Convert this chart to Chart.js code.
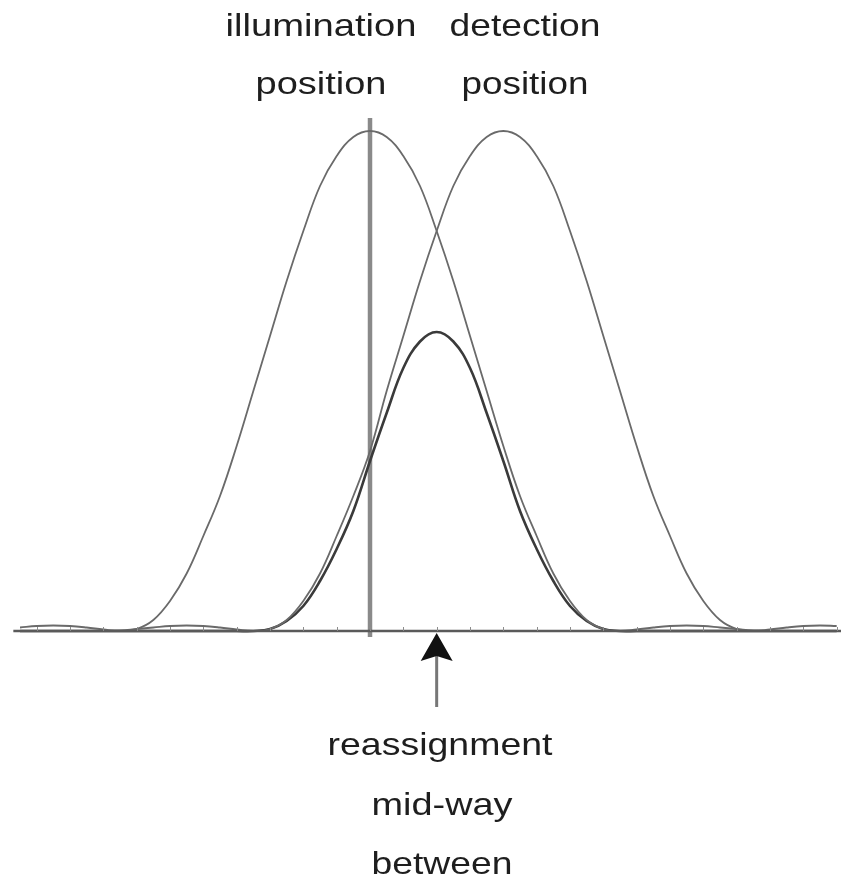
<!DOCTYPE html>
<html>
<head>
<meta charset="utf-8">
<script src="https://cdn.jsdelivr.net/npm/chart.js@4.4.1/dist/chart.umd.min.js"></script>
<style>
    html, body { margin: 0; padding: 0; background: #fff; }
    #wrap { width: 841px; height: 878px; }
</style>
</head>
<body>
<div id="wrap"><canvas id="psfChart" width="841" height="878"></canvas></div>
<script>
// positions along the line, one tick = 1 unit (illumination at 0, detection at 4)
const positions = [-10.5, -10, -9.5, -9, -8.5, -8, -7.5, -7, -6.5, -6, -5.5, -5, -4.5, -4, -3.5, -3, -2.5, -2, -1.5, -1, -0.5,
    0, 0.5, 1, 1.5, 2, 2.5, 3, 3.5, 4, 4.5, 5, 5.5, 6, 6.5, 7, 7.5, 8, 8.5, 9, 9.5, 10, 10.5, 11, 11.5, 12, 12.5, 13, 13.5, 14];

const illumination = [0.007, 0.01, 0.011, 0.01, 0.007, 0.003, 0, 0.004, 0.022, 0.06, 0.115, 0.19, 0.27, 0.37, 0.48, 0.59, 0.70, 0.80, 0.89, 0.95, 0.988,
    1.0, 0.988, 0.95, 0.89, 0.80, 0.70, 0.59, 0.48, 0.37, 0.27, 0.19, 0.115, 0.06, 0.022, 0.004, 0, 0.003, 0.007, 0.01, 0.011, 0.01, 0.007, 0.004, 0.001, 0, 0, 0, 0, 0];

const detection = [0, 0, 0, 0, 0, 0, 0.001, 0.004, 0.007, 0.01, 0.011, 0.01, 0.007, 0.003, 0, 0.004, 0.022, 0.06, 0.115, 0.19, 0.27,
    0.36, 0.48, 0.59, 0.70, 0.80, 0.89, 0.95, 0.988, 1.0, 0.988, 0.95, 0.89, 0.80, 0.70, 0.59, 0.48, 0.37, 0.27, 0.19, 0.115, 0.06, 0.022, 0.004, 0, 0.003, 0.007, 0.01, 0.011, 0.01];

const product = [0, 0, 0, 0, 0, 0, 0, 0, 0, 0, 0, 0, 0, 0, 0, 0.004, 0.02, 0.05, 0.10, 0.164, 0.24,
    0.34, 0.436, 0.526, 0.579, 0.598, 0.579, 0.526, 0.436, 0.34, 0.24, 0.164, 0.10, 0.05, 0.02, 0.004, 0, 0, 0, 0, 0, 0, 0, 0, 0, 0, 0, 0, 0, 0];

const tickPositions = [-10, -9, -8, -7, -6, -5, -4, -3, -2, -1, 0, 1, 2, 3, 4, 5, 6, 7, 8, 9, 10, 11, 12, 13, 14];
const axisRange = [-10.7, 14.2];
const markerPosition = 0;      // vertical line at the illumination position
const reassignPosition = 2;    // arrow, mid-way between

const topLabels = [
    { lines: ['illumination', 'position'], x: 321 },
    { lines: ['detection', 'position'], x: 525 }
];
const bottomLabels = ['reassignment', 'mid-way', 'between'];

function pts(ys) {
    return positions.map((x, i) => ({ x: x, y: ys[i] }));
}

// draws the axis ticks, the arrow head and all text
const decorPlugin = {
    id: 'decor',
    afterDatasetsDraw(chart) {
        const ctx = chart.ctx;
        const xs = chart.scales.x;
        const ys = chart.scales.y;
        const y0 = ys.getPixelForValue(0);

        // small ticks on the axis
        ctx.save();
        ctx.strokeStyle = '#8c8c8c';
        ctx.lineWidth = 1;
        tickPositions.forEach(t => {
            const px = Math.round(xs.getPixelForValue(t)) + 0.5;
            ctx.beginPath();
            ctx.moveTo(px, y0 - 4);
            ctx.lineTo(px, y0);
            ctx.stroke();
        });

        // arrow head
        const ax = xs.getPixelForValue(reassignPosition);
        ctx.fillStyle = '#111';
        ctx.beginPath();
        ctx.moveTo(ax, ys.getPixelForValue(-0.004));
        ctx.lineTo(xs.getPixelForValue(reassignPosition + 0.48), ys.getPixelForValue(-0.06));
        ctx.lineTo(ax, ys.getPixelForValue(-0.05));
        ctx.lineTo(xs.getPixelForValue(reassignPosition - 0.48), ys.getPixelForValue(-0.06));
        ctx.closePath();
        ctx.fill();
        ctx.restore();

        // text
        ctx.save();
        ctx.fillStyle = '#1e1e1e';
        ctx.textAlign = 'center';
        ctx.textBaseline = 'alphabetic';
        ctx.font = '32px "Liberation Sans", Arial, sans-serif';
        const drawText = (txt, cx, base, width) => {
            const w = ctx.measureText(txt).width;
            const s = width ? width / w : 1.12;
            ctx.save();
            ctx.translate(cx, base);
            ctx.scale(s, 1);
            ctx.fillText(txt, 0, 0);
            ctx.restore();
        };
        drawText(topLabels[0].lines[0], topLabels[0].x, 36, 191);
        drawText(topLabels[0].lines[1], topLabels[0].x, 94, 131);
        drawText(topLabels[1].lines[0], topLabels[1].x, 36, 151);
        drawText(topLabels[1].lines[1], topLabels[1].x, 94, 127);
        drawText(bottomLabels[0], 440, 755, 225);
        drawText(bottomLabels[1], 442, 815, 141);
        drawText(bottomLabels[2], 442, 874, 141);
        ctx.restore();
    }
};

document.addEventListener('DOMContentLoaded', function() {
    const ctx = document.getElementById('psfChart').getContext('2d');
    new Chart(ctx, {
        type: 'line',
        data: {
            datasets: [
                {
                    label: 'axis',
                    data: [{ x: axisRange[0], y: 0 }, { x: axisRange[1], y: 0 }],
                    borderColor: '#5a5a5a',
                    borderWidth: 2.5,
                    pointRadius: 0
                },
                {
                    label: 'illumination',
                    data: pts(illumination),
                    borderColor: '#6a6a6a',
                    borderWidth: 1.8,
                    pointRadius: 0,
                    tension: 0.4
                },
                {
                    label: 'detection',
                    data: pts(detection),
                    borderColor: '#6a6a6a',
                    borderWidth: 1.8,
                    pointRadius: 0,
                    tension: 0.4
                },
                {
                    label: 'product',
                    data: pts(product),
                    borderColor: '#3a3a3a',
                    borderWidth: 2.6,
                    pointRadius: 0,
                    tension: 0.4
                },
                {
                    label: 'marker',
                    data: [{ x: markerPosition, y: -0.012 }, { x: markerPosition, y: 1.026 }],
                    borderColor: '#8a8a8a',
                    borderWidth: 4.5,
                    pointRadius: 0
                },
                {
                    label: 'arrow',
                    data: [{ x: reassignPosition, y: -0.152 }, { x: reassignPosition, y: -0.05 }],
                    borderColor: '#777',
                    borderWidth: 3,
                    pointRadius: 0
                }
            ]
        },
        options: {
            responsive: false,
            animation: false,
            layout: { padding: 0 },
            plugins: {
                legend: { display: false },
                tooltip: { enabled: false }
            },
            scales: {
                x: { type: 'linear', min: -11.1, max: 14.13, display: false },
                y: { type: 'linear', min: -0.494, max: 1.262, display: false }
            }
        },
        plugins: [decorPlugin]
    });
});
</script>
</body>
</html>
